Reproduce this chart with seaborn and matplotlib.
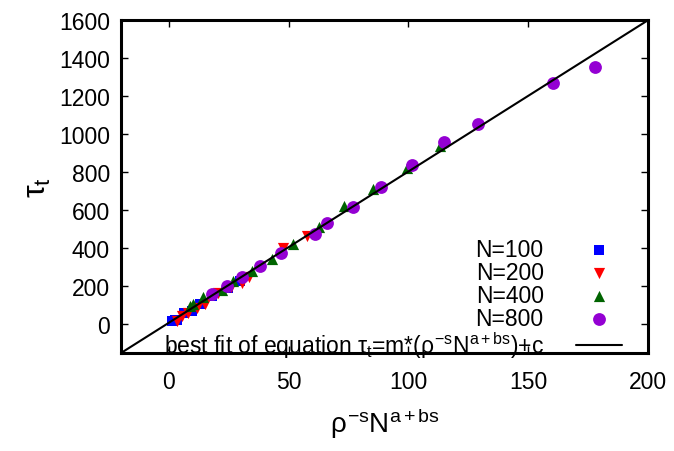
#!/usr/bin/env python3
"""Scaling collapse of tau_t against rho^-s N^(a+bs), with the linear best fit."""

import numpy as np
import pandas as pd
import matplotlib
matplotlib.use("Agg")
import matplotlib.pyplot as plt
import seaborn as sns

# data
x_n100 = [1.5, 2.5, 3.5, 6.5, 9.5, 13.0, 18.0, 24.5, 29.5]
y_n100 = [18, 22, 25, 60, 72, 105, 150, 190, 228]

x_n200 = [3.3, 5.4, 8.0, 11.7, 15.0, 20.5, 26.0, 30.5, 33.4, 47.6, 57.6]
y_n200 = [16, 42, 60, 84, 105, 163, 195, 216, 252, 400, 463]

x_n400 = [8.8, 10.0, 14.2, 22.0, 26.7, 34.6, 43.0, 51.8, 62.6, 73.0, 85.2, 99.4, 113.0]
y_n400 = [95, 105, 142, 179, 226, 279, 342, 421, 510, 620, 710, 820, 936]

x_n800 = [18.0, 24.2, 30.5, 38.0, 46.8, 61.0, 66.0, 76.8, 88.5, 101.5, 114.8, 129.0, 160.3, 177.9]
y_n800 = [160, 200, 252, 305, 373, 478, 531, 615, 720, 836, 957, 1052, 1267, 1351]

# best fit tau_t = m*x + c
fit_m = 7.95
fit_c = 9.0

labels = ["N=100", "N=200", "N=400", "N=800"]
colors = ["#0000ff", "#ff0000", "#006400", "#9400d3"]
markers = ["s", "v", "^", "o"]
sizes = [60, 65, 65, 85]

xticks = [0, 50, 100, 150, 200]
yticks = [0, 200, 400, 600, 800, 1000, 1200, 1400, 1600]

frames = []
for lab, xs, ys in zip(labels, [x_n100, x_n200, x_n400, x_n800],
                       [y_n100, y_n200, y_n400, y_n800]):
    frames.append(pd.DataFrame({"x": xs, "tau": ys, "N": lab}))
df = pd.concat(frames, ignore_index=True)

sns.set_style("ticks")
plt.rcParams["font.family"] = ["Liberation Sans", "DejaVu Sans"]
plt.rcParams["mathtext.fontset"] = "custom"
plt.rcParams["mathtext.rm"] = "Liberation Sans"
plt.rcParams["mathtext.it"] = "Liberation Sans"
plt.rcParams["mathtext.bf"] = "Liberation Sans:bold"
for key in ["text.color", "axes.labelcolor", "xtick.color", "ytick.color"]:
    plt.rcParams[key] = "black"

fig = plt.figure(figsize=(6.74, 4.52), dpi=100)
ax = fig.add_axes([0.1795, 0.2168, 0.7819, 0.7367])

for lab, col, mk, sz in zip(labels, colors, markers, sizes):
    sns.scatterplot(data=df[df["N"] == lab], x="x", y="tau", color=col,
                    marker=mk, s=sz, linewidth=0, label=lab, ax=ax, zorder=2)

xmin, xmax = -20, 200
ymin, ymax = -150, 1600
xline = np.linspace(xmin, xmax, 200)
sns.lineplot(x=xline, y=fit_m * xline + fit_c, color="black", linewidth=1.5,
             label=r"best fit of equation $\tau_t$=m*($\rho^{-s}$N$^{a+bs}$)+c",
             ax=ax, zorder=3)

ax.set_xlim(xmin, xmax)
ax.set_ylim(ymin, ymax)
ax.set_xticks(xticks)
ax.set_yticks(yticks)
ax.tick_params(direction="in", length=5, width=1, labelsize=16.5,
               top=True, right=True)
ax.tick_params(axis="x", pad=12)
ax.tick_params(axis="y", pad=8)
for sp in ax.spines.values():
    sp.set_linewidth(2.2)
    sp.set_color("black")

ax.set_xlabel(r"$\rho^{-s}$N$^{a+bs}$", fontsize=20, labelpad=9)
ax.set_ylabel(r"$\tau_t$", fontsize=23, labelpad=4)

leg = ax.legend(loc="lower right", frameon=False, markerfirst=False,
                fontsize=16.5, labelspacing=0.0, handlelength=2.0,
                handletextpad=1.4, borderaxespad=0.0, borderpad=0.0,
                bbox_to_anchor=(0.95, -0.022))

plt.savefig("out.png", dpi=100)
